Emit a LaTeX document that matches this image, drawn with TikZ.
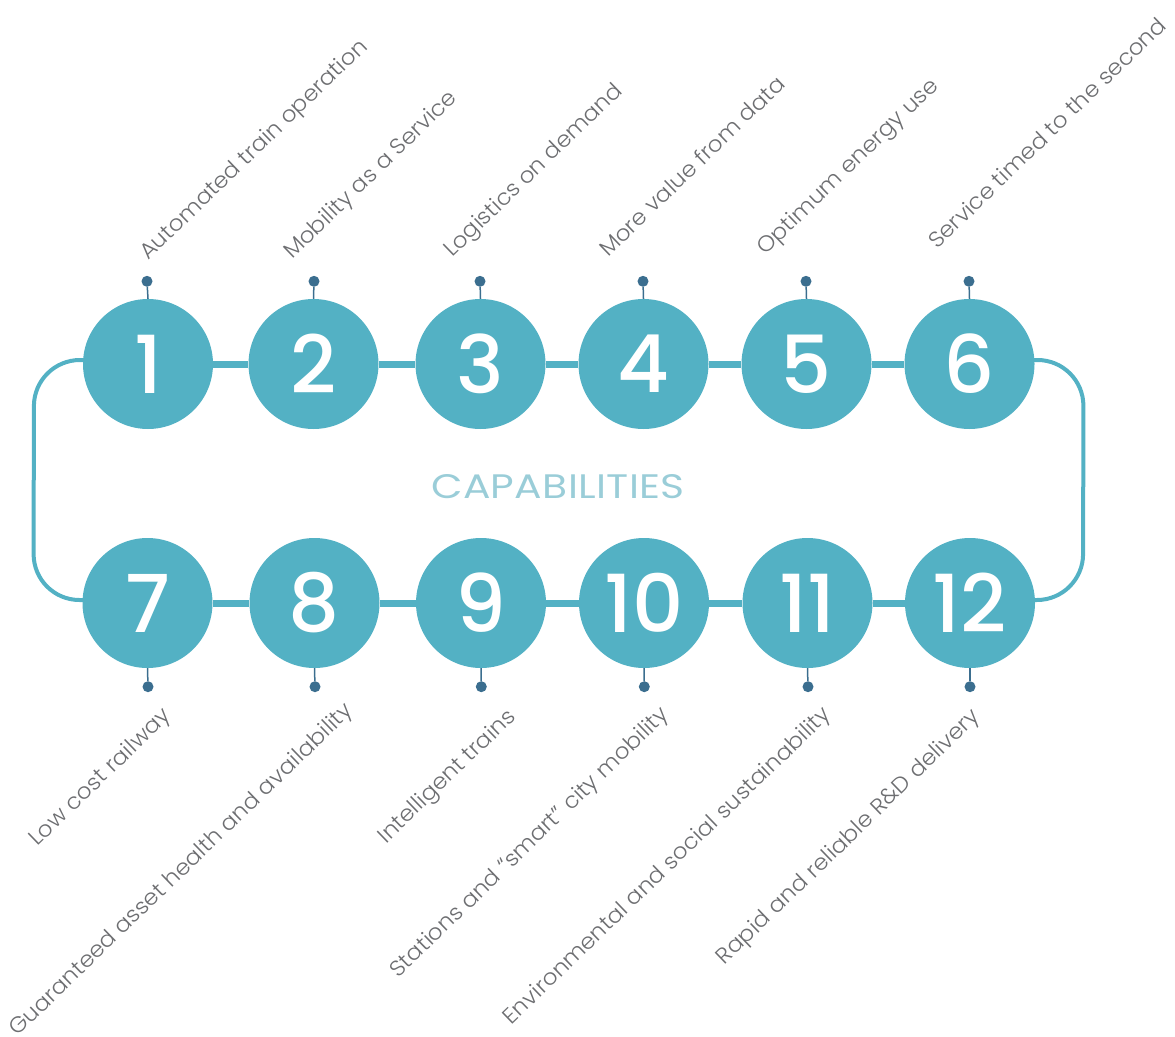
\documentclass[tikz,border=0pt]{standalone}
\usepackage{fontspec}
\usetikzlibrary{backgrounds}
\setmainfont{Poppins}
\newfontfamily\labfamily{Poppins}[UprightFont={* Light},FakeStretch=1.05]
\newfontfamily\numfamily{Poppins}[UprightFont={* Medium}]
\newfontfamily\titlefamily{Poppins}[FakeStretch=1.2,LetterSpace=1]
\definecolor{capteal}{HTML}{53B1C4}
\definecolor{dotblue}{HTML}{3B6E8F}
\definecolor{labelgray}{HTML}{6D6E71}
\definecolor{captext}{HTML}{9ACDD8}
\begin{document}
\begin{tikzpicture}[x=1pt,y=-1pt,
 capcircle/.style={circle,fill=capteal,minimum size=130pt,inner sep=0pt,text=white,font=\numfamily\fontsize{80}{80}\selectfont},
 pindot/.style={circle,fill=dotblue,minimum size=11pt,inner sep=0pt},
 stemline/.style={draw=dotblue,line width=1.5pt},
 linkbar/.style={draw=capteal,line width=7pt},
 loopline/.style={draw=capteal,line width=4pt,rounded corners=46pt},
 labtext/.style={rotate=44,inner sep=0pt,text=labelgray,font=\labfamily\fontsize{22}{22}\selectfont},
 toplab/.style={labtext,anchor=base west},
 botlab/.style={labtext,anchor=base east}]
\useasboundingbox (0,0) rectangle (1175,1036);
% top row
\node[capcircle] (c1) at (148,364) {1};
\node[capcircle] (c2) at (313.5,364) {2};
\node[capcircle] (c3) at (480.5,364) {3};
\node[capcircle] (c4) at (643.5,364) {4};
\node[capcircle] (c5) at (806.5,364) {5};
\node[capcircle] (c6) at (969.5,364) {6};
% bottom row
\node[capcircle] (c7) at (147.5,603) {7};
\node[capcircle] (c8) at (314.5,603) {8};
\node[capcircle] (c9) at (481,603) {9};
\node[capcircle] (c10) at (644,603) {10};
\node[capcircle] (c11) at (807.5,603) {11};
\node[capcircle] (c12) at (970,603) {12};
% pins
\foreach \i/\x in {1/147,2/314,3/480,4/643,5/806,6/969}{
  \node[pindot] (p\i) at (\x,281.3) {};
  \draw[stemline] (c\i.north) -- (p\i);
}
\foreach \i/\x in {7/148,8/315,9/481.3,10/644.3,11/808,12/970}{
  \node[pindot] (p\i) at (\x,686.7) {};
  \draw[stemline] (c\i.south) -- (p\i);
}
% connectors
\begin{scope}[on background layer]
\foreach \a/\b in {c1/c2,c2/c3,c3/c4,c4/c5,c5/c6,c7/c8,c8/c9,c9/c10,c10/c11,c11/c12}{
  \draw[linkbar] (\a) -- (\b);
}
\draw[loopline] ([yshift=4pt]c1.center) -- ++(-114,0) -- ([xshift=-114pt,yshift=3pt]c7.center) -- ([yshift=3pt]c7.center);
\draw[loopline] ([yshift=4pt]c6.center) -- ++(114,0) -- ([xshift=113pt,yshift=3pt]c12.center) -- ([yshift=3pt]c12.center);
\end{scope}
% centre title
\node[text=captext,font=\titlefamily\fontsize{34}{34}\selectfont,inner sep=0pt] (title) at (558,487) {CAPABILITIES};
% labels
\node[toplab] (l1) at (148,261) {Automated train operation};
\node[toplab] (l2) at (292,260) {Mobility as a Service};
\node[toplab] (l3) at (452,258) {Logistics on demand};
\node[toplab] (l4) at (608,258) {More value from data};
\node[toplab] (l5) at (765,256) {Optimum energy use};
\node[toplab] (l6) at (937,250) {Service timed to the second};
\node[botlab] (l7) at (172,717) {Low cost railway};
\node[botlab] (l8) at (354,712) {Guaranteed asset health and availability};
\node[botlab] (l9) at (517,718) {Intelligent trains};
\node[botlab] (l10) at (670,716) {Stations and “smart” city mobility};
\node[botlab] (l11) at (832,716) {Environmental and social sustainability};
\node[botlab] (l12) at (981,718) {Rapid and reliable R\&D delivery};
\end{tikzpicture}
\end{document}
